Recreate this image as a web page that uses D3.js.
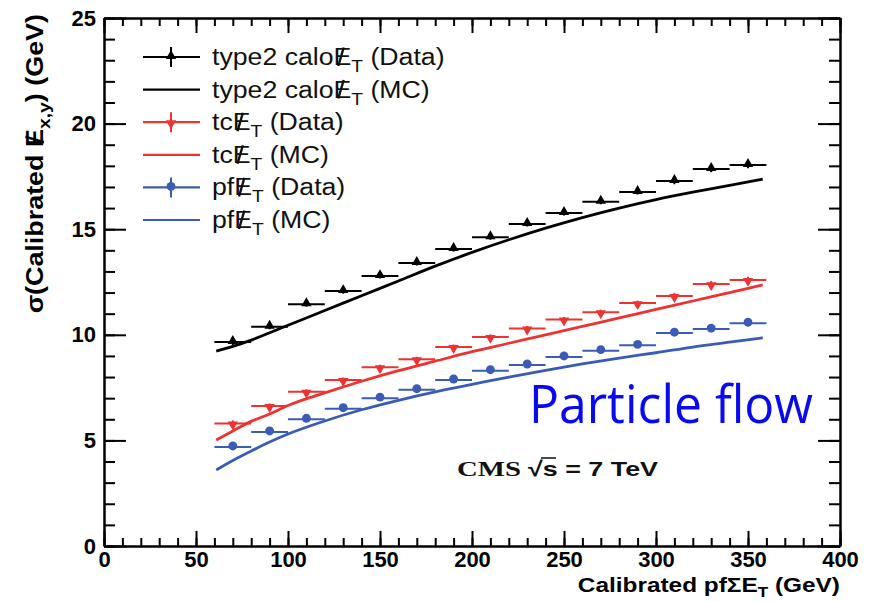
<!DOCTYPE html>
<html><head><meta charset="utf-8">
<script src="https://cdn.jsdelivr.net/npm/d3@7"></script>
<style>body{margin:0;background:#fff}</style>
</head><body>
<svg id="chart" width="874" height="602"></svg>
<script>
// Resolution of calibrated MET components vs. calibrated pf sum ET
const binCenters = [70, 90, 110, 130, 150, 170, 190, 210, 230, 250, 270, 290, 310, 330, 350];
const binHalfWidth = 10;
const caloData = [9.66, 10.38, 11.45, 12.07, 12.78, 13.40, 14.06, 14.62, 15.25, 15.77, 16.30, 16.76, 17.28, 17.85, 18.04];
const tcData   = [5.80, 6.63, 7.30, 7.86, 8.46, 8.84, 9.42, 9.90, 10.30, 10.72, 11.07, 11.50, 11.84, 12.40, 12.60];
const pfData   = [4.69, 5.40, 6.00, 6.50, 7.00, 7.40, 7.86, 8.30, 8.57, 8.95, 9.25, 9.50, 10.08, 10.27, 10.55];
const dataErr  = [0.15, 0.12, 0.12, 0.12, 0.12, 0.12, 0.12, 0.12, 0.12, 0.12, 0.12, 0.12, 0.15, 0.15, 0.15];

const mcX    = [61, 70, 80, 90, 100, 120, 140, 160, 180, 200, 220, 240, 260, 280, 300, 320, 340, 358];
const caloMC = [9.23, 9.45, 9.75, 10.1, 10.45, 11.15, 11.85, 12.55, 13.25, 13.9, 14.5, 15.05, 15.55, 16.0, 16.4, 16.75, 17.07, 17.37];
const tcMC   = [5.02, 5.45, 5.9, 6.25, 6.65, 7.25, 7.8, 8.3, 8.75, 9.2, 9.6, 10.0, 10.4, 10.8, 11.2, 11.6, 12.0, 12.36];
const pfMC   = [3.6, 4.05, 4.5, 4.92, 5.3, 5.92, 6.45, 6.9, 7.3, 7.65, 8.0, 8.32, 8.62, 8.9, 9.15, 9.42, 9.65, 9.86];

const xMajorTicks = [0, 50, 100, 150, 200, 250, 300, 350, 400];
const yMajorTicks = [0, 5, 10, 15, 20, 25];

const BLACK = "#000000", RED = "#ee3232", BLUE = "#3a5cb4";

const svg = d3.select("#chart");
const x = d3.scaleLinear().domain([0, 400]).range([104, 840]);
const y = d3.scaleLinear().domain([0, 25]).range([546, 18]);

const axisFont = "'Liberation Sans', Arial, Helvetica, sans-serif";

// ---- frame and axes ----
const xMinor = d3.range(0, 401, 10);
const yMinor = d3.range(0, 26, 1);

function styleAxis(g) {
  g.selectAll("path.domain").attr("stroke", "#000").attr("stroke-width", 2);
  g.selectAll(".tick line").attr("stroke", "#000").attr("stroke-width", 2);
  g.selectAll("text").attr("font-family", axisFont).attr("font-weight", "bold")
    .attr("font-size", 22).attr("fill", "#000");
}

// bottom
svg.append("g").attr("transform", `translate(0,${y(0)})`)
  .call(d3.axisBottom(x).tickValues(xMinor).tickSize(-8).tickFormat("").tickSizeOuter(0)).call(styleAxis);
svg.append("g").attr("transform", `translate(0,${y(0)})`)
  .call(d3.axisBottom(x).tickValues(xMajorTicks).tickSize(-15).tickPadding(6).tickSizeOuter(0).tickFormat(d3.format("d")))
  .call(styleAxis)
  .call(g => g.selectAll("text").attr("dy", "0.74em").attr("y", 5));
// top
svg.append("g").attr("transform", `translate(0,${y(25)})`)
  .call(d3.axisTop(x).tickValues(xMinor).tickSize(-8).tickFormat("").tickSizeOuter(0)).call(styleAxis);
svg.append("g").attr("transform", `translate(0,${y(25)})`)
  .call(d3.axisTop(x).tickValues(xMajorTicks).tickSize(-15).tickFormat("").tickSizeOuter(0)).call(styleAxis);
// left
svg.append("g").attr("transform", `translate(${x(0)},0)`)
  .call(d3.axisLeft(y).tickValues(yMinor).tickSize(-11).tickFormat("").tickSizeOuter(0)).call(styleAxis);
svg.append("g").attr("transform", `translate(${x(0)},0)`)
  .call(d3.axisLeft(y).tickValues(yMajorTicks).tickSize(-22).tickPadding(8).tickSizeOuter(0).tickFormat(d3.format("d")))
  .call(styleAxis);
// right
svg.append("g").attr("transform", `translate(${x(400)},0)`)
  .call(d3.axisRight(y).tickValues(yMinor).tickSize(-11).tickFormat("").tickSizeOuter(0)).call(styleAxis);
svg.append("g").attr("transform", `translate(${x(400)},0)`)
  .call(d3.axisRight(y).tickValues(yMajorTicks).tickSize(-22).tickFormat("").tickSizeOuter(0)).call(styleAxis);

// ---- helper: text with a slashed E (missing transverse energy) ----
// parts: [pre, sub, post]; the slash is drawn as a stroke across the "E"
function metText(g, fontSize, parts, attrs) {
  const t = g.append("text");
  Object.entries(attrs).forEach(([k, v]) => t.attr(k, v));
  t.append("tspan").text(parts[0] + "E");
  t.append("tspan").attr("dy", fontSize * 0.3).attr("font-size", fontSize * 0.72).text(parts[1]);
  t.append("tspan").attr("dy", -fontSize * 0.3).text(parts[2]);
  const idx = parts[0].length;
  const node = t.node();
  const s = node.getStartPositionOfChar(idx), e = node.getEndPositionOfChar(idx);
  const cx = s.x + (e.x - s.x) * 0.42;
  const cap = fontSize * 0.72;
  g.append("line")
    .attr("x1", cx - cap * 0.14).attr("y1", s.y + 1)
    .attr("x2", cx + cap * 0.14).attr("y2", s.y - cap - 1)
    .attr("stroke", attrs.fill || "#000").attr("stroke-width", fontSize * 0.09);
  return t;
}

// ---- MC curves ----
const line = d3.line().x(d => x(d[0])).y(d => y(d[1])).curve(d3.curveMonotoneX);
const mcSeries = [[caloMC, BLACK], [tcMC, RED], [pfMC, BLUE]];
mcSeries.forEach(([vals, col]) => {
  svg.append("path").datum(mcX.map((v, i) => [v, vals[i]]))
    .attr("d", line).attr("fill", "none").attr("stroke", col).attr("stroke-width", 2.8);
});

// ---- data points ----
const tri = d3.symbol().type(d3.symbolTriangle).size(46);
const circ = d3.symbol().type(d3.symbolCircle).size(62);
const dataSeries = [
  { vals: caloData, col: BLACK, sym: tri, rot: 0 },
  { vals: tcData, col: RED, sym: tri, rot: 180 },
  { vals: pfData, col: BLUE, sym: circ, rot: 0 }
];
dataSeries.forEach(s => {
  const g = svg.append("g");
  binCenters.forEach((c, i) => {
    const v = s.vals[i];
    g.append("line").attr("x1", x(c - binHalfWidth)).attr("x2", x(c + binHalfWidth))
      .attr("y1", y(v)).attr("y2", y(v)).attr("stroke", s.col).attr("stroke-width", 2);
    g.append("line").attr("x1", x(c)).attr("x2", x(c))
      .attr("y1", y(v - dataErr[i])).attr("y2", y(v + dataErr[i])).attr("stroke", s.col).attr("stroke-width", 2);
    g.append("path").attr("d", s.sym())
      .attr("transform", `translate(${x(c)},${y(v) + (s.rot ? 1 : -1)}) rotate(${s.rot})`)
      .attr("fill", s.col);
  });
});

// ---- legend ----
const legendFont = 23;
const legendItems = [
  { pre: "type2 calo", post: " (Data)", col: BLACK, sym: tri, rot: 0, data: true },
  { pre: "type2 calo", post: " (MC)", col: BLACK, data: false },
  { pre: "tc", post: " (Data)", col: RED, sym: tri, rot: 180, data: true },
  { pre: "tc", post: " (MC)", col: RED, data: false },
  { pre: "pf", post: " (Data)", col: BLUE, sym: circ, rot: 0, data: true },
  { pre: "pf", post: " (MC)", col: BLUE, data: false }
];
legendItems.forEach((it, i) => {
  const cy = 57 + i * 32.6;
  svg.append("line").attr("x1", 143).attr("x2", 200).attr("y1", cy).attr("y2", cy)
    .attr("stroke", it.col).attr("stroke-width", 2.2);
  if (it.data) {
    svg.append("line").attr("x1", 171).attr("x2", 171).attr("y1", cy - 10).attr("y2", cy + 10)
      .attr("stroke", it.col).attr("stroke-width", 2);
    svg.append("path").attr("d", it.sym())
      .attr("transform", `translate(171,${cy + (it.rot ? 1 : -1)}) rotate(${it.rot})`).attr("fill", it.col);
  }
  const g = svg.append("g").attr("transform", `translate(212,${cy + 8}) scale(1.16,1)`);
  metText(g, legendFont, [it.pre, "T", it.post],
    { x: 0, y: 0, "font-family": axisFont, "font-size": legendFont, fill: "#111" });
});

// ---- axis titles ----
const xg = svg.append("g").attr("transform", "translate(840,592) scale(1.22,1)");
const xt = xg.append("text").attr("x", 0).attr("y", 0).attr("text-anchor", "end")
  .attr("font-family", axisFont).attr("font-weight", "bold").attr("font-size", 20).attr("fill", "#000");
xt.append("tspan").text("Calibrated pfΣE");
xt.append("tspan").attr("dy", 5).attr("font-size", 14).text("T");
xt.append("tspan").attr("dy", -5).text(" (GeV)");

const yg = svg.append("g").attr("transform", "translate(43,14) rotate(-90) scale(1.17,1)");
metText(yg, 23, ["σ(Calibrated ", "x,y", ") (GeV)"],
  { x: 0, y: 0, "text-anchor": "end", "font-family": axisFont, "font-weight": "bold", "font-size": 23, fill: "#000" });

// ---- annotations ----
svg.append("text").attr("x", 529).attr("y", 423)
  .attr("font-family", "'Open Sans', 'Noto Sans', sans-serif").attr("font-size", 53)
  .attr("textLength", 284).attr("lengthAdjust", "spacingAndGlyphs")
  .attr("fill", "#0a0aef").text("Particle flow");

svg.append("text").attr("x", 457).attr("y", 476)
  .attr("font-family", "'Liberation Serif', 'Times New Roman', serif").attr("font-weight", "bold")
  .attr("font-size", 22).attr("textLength", 64).attr("lengthAdjust", "spacingAndGlyphs")
  .attr("fill", "#111").text("CMS");
svg.append("text").attr("x", 528).attr("y", 476)
  .attr("font-family", axisFont).attr("font-weight", "bold").attr("font-size", 21)
  .attr("textLength", 130).attr("lengthAdjust", "spacingAndGlyphs")
  .attr("fill", "#111").text("√s = 7 TeV");
svg.append("line").attr("x1", 541).attr("x2", 556).attr("y1", 458).attr("y2", 458)
  .attr("stroke", "#111").attr("stroke-width", 1.5);
</script>
</body></html>
